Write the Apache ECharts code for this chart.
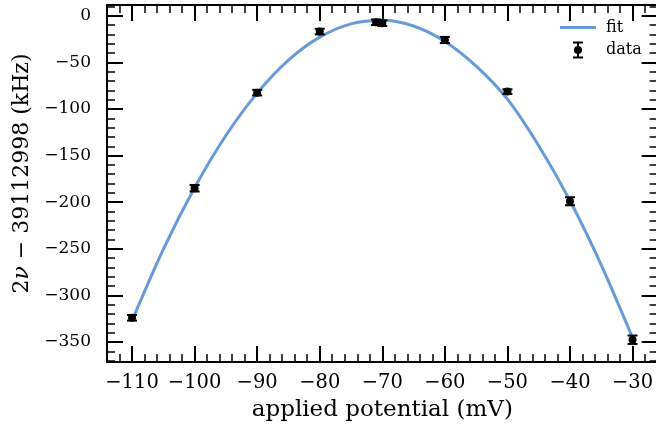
<!DOCTYPE html>
<html>
<head>
<meta charset="utf-8">
<script src="https://cdn.jsdelivr.net/npm/echarts@6/dist/echarts.min.js"></script>
<style>
  html, body { margin: 0; padding: 0; background: #fff; }
  #chart { width: 656px; height: 431px; }
</style>
</head>
<body>
<div id="chart"></div>
<script>
// measured points (applied potential in mV, shift in kHz, 1 sigma)
var potential = [-110, -100, -90, -80, -71, -70, -60, -50, -40, -30];
var shift = [-324, -185, -82.5, -17, -7, -8, -26, -81.4, -199, -347.5];
var shiftErr = [3, 3.5, 3, 3, 3, 3, 3.3, 2.5, 4.3, 4.5];

// fit curve
var fitX = [-110, -105, -100, -95, -90, -85, -80, -75, -70, -65, -60, -55, -50, -45, -40, -35, -30];
var fitY = [-327, -250.5, -184.5, -128.5, -83, -47.7, -23, -8.7, -4.8, -11, -27.6, -54, -89.5, -139.5, -198.5, -267.5, -345.5];

var fontFamily = 'DejaVu Serif';
var blue = '#679bd8';
var lineIcon = 'path://M0,0H36V3H0Z';
var errIcon = 'path://M0,0H10V2H0Z M4,0H6V17H4Z M0,15H10V17H0Z M1,8.5A4,4 0 1,1 9,8.5A4,4 0 1,1 1,8.5Z';

function minus (v) {
  return String(v).replace('-', '\u2212');
}

// one axis side, ticks pointing inwards like the original
function axisSide (position, min, max, step, labels) {
  return {
    type: 'value',
    position: position,
    min: min,
    max: max,
    minInterval: step,
    maxInterval: step,
    axisLine: { show: true, onZero: false, lineStyle: { color: '#000', width: 2 } },
    axisTick: { show: true, inside: true, length: 16, lineStyle: { color: '#000', width: 2 } },
    minorTick: { show: true, splitNumber: 5, length: 8, lineStyle: { color: '#000', width: 1.5 } },
    splitLine: { show: false },
    minorSplitLine: { show: false },
    axisLabel: {
      show: labels,
      showMinLabel: false,
      showMaxLabel: false,
      formatter: minus,
      color: '#000',
      fontFamily: fontFamily
    }
  };
}

var xBottom = axisSide('bottom', -114, -26, 10, true);
xBottom.axisLabel.fontSize = 19.5;
xBottom.axisLabel.margin = 11;
xBottom.name = 'applied potential (mV)';
xBottom.nameLocation = 'middle';
xBottom.nameGap = 37;
xBottom.nameTextStyle = { fontFamily: fontFamily, fontSize: 23, color: '#000' };

var yLeft = axisSide('left', -371.4, 11.5, 50, true);
yLeft.axisLabel.fontSize = 17;
yLeft.axisLabel.margin = 16;
yLeft.name = '2{i|ν} \u2212 39112998 (kHz)';
yLeft.nameLocation = 'middle';
yLeft.nameRotate = 90;
yLeft.nameGap = 72;
yLeft.nameTextStyle = {
  fontFamily: fontFamily, fontSize: 22, color: '#000',
  padding: [0, 0, 0, 20],
  rich: { i: { fontFamily: fontFamily, fontSize: 22, fontStyle: 'italic', color: '#000' } }
};

var myChart = echarts.init(document.getElementById('chart'), null, { renderer: 'canvas' });

var option = {
  animation: false,
  backgroundColor: '#fff',
  grid: { left: 107, top: 5, width: 550.6, height: 357, containLabel: false, outerBoundsMode: 'none' },
  legend: {
    orient: 'vertical',
    left: 560,
    top: 19.5,
    padding: 0,
    itemWidth: 36,
    itemHeight: 17,
    itemGap: 6,
    formatter: ' {name}',
    textStyle: { fontFamily: fontFamily, fontSize: 16, color: '#000' },
    data: [
      { name: 'fit', icon: lineIcon, itemStyle: { color: blue } },
      { name: 'data', icon: errIcon, itemStyle: { color: '#000', opacity: 1 } }
    ]
  },
  xAxis: [xBottom, axisSide('top', -114, -26, 10, false)],
  yAxis: [yLeft, axisSide('right', -371.4, 11.5, 50, false)],
  series: [
    {
      name: 'fit',
      type: 'line',
      smooth: 0.3,
      symbol: 'none',
      color: blue,
      lineStyle: { width: 3, color: blue },
      data: fitX.map(function (x, i) { return [x, fitY[i]]; }),
      z: 2
    },
    {
      name: 'errors',
      type: 'custom',
      renderItem: function (params, api) {
        var x = api.value(0), y = api.value(1), e = api.value(2);
        var hi = api.coord([x, y + e]);
        var lo = api.coord([x, y - e]);
        var st = { stroke: '#000', lineWidth: 2 };
        return {
          type: 'group',
          children: [
            { type: 'line', shape: { x1: hi[0], y1: hi[1], x2: lo[0], y2: lo[1] }, style: st },
            { type: 'line', shape: { x1: hi[0] - 5, y1: hi[1], x2: hi[0] + 5, y2: hi[1] }, style: st },
            { type: 'line', shape: { x1: lo[0] - 5, y1: lo[1], x2: lo[0] + 5, y2: lo[1] }, style: st }
          ]
        };
      },
      encode: { x: 0, y: 1 },
      data: potential.map(function (x, i) { return [x, shift[i], shiftErr[i]]; }),
      z: 3
    },
    {
      name: 'data',
      type: 'scatter',
      symbol: 'circle',
      symbolSize: 8,
      color: '#000',
      itemStyle: { opacity: 1 },
      data: potential.map(function (x, i) { return [x, shift[i]]; }),
      z: 4
    }
  ]
};

myChart.setOption(option);
</script>
</body>
</html>
